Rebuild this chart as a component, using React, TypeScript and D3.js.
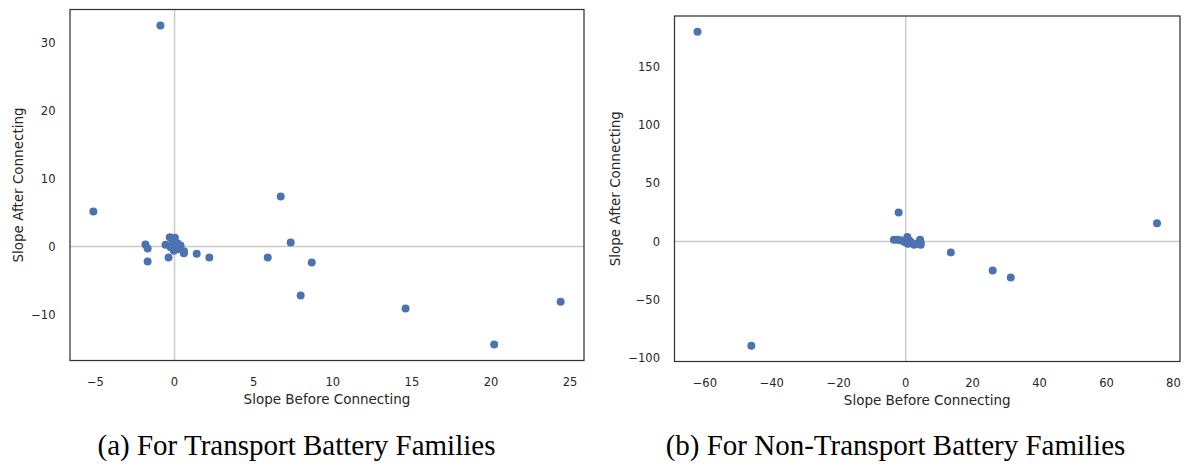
import React from "react";
import * as d3 from "d3";

// Panel (a): Transport battery families
const transportBefore = [
  -0.89, -5.13, 6.71, 7.34, 5.89, 8.67, 7.97, 14.6, 20.2, 24.4,
  -1.84, -1.7, -1.7, -0.38, 1.4, 2.2, -0.3, 0.02, -0.57, -0.25,
  0.06, 0.27, 0.59, -0.04, -0.13, 0.2, 0.38, 0.6, 0.1,
];
const transportAfter = [
  32.5, 5.15, 7.35, 0.6, -1.6, -2.35, -7.2, -9.1, -14.4, -8.1,
  0.3, -0.3, -2.2, -1.6, -1.05, -1.6, 1.37, 1.28, 0.25, -0.1,
  0.25, -0.34, -0.99, -0.6, 0.6, 0.45, 0.15, -0.7, -0.2,
];

// Panel (b): Non-transport battery families
const nonTransportBefore = [
  -62.2, -46.1, 75.1, 13.5, 26, 31.4, -2.1, -3.5, -2.5, -1.5, -0.5,
  0.5, 0.7, 1.5, 2.5, 3.5, 4.3, 4.5, 0, 1, 2, 4.5,
];
const nonTransportAfter = [
  180.6, -89.9, 15.6, -9.5, -25, -31, 25, 1.5, 1.5, 0.9, 0,
  3.7, -2, -0.6, -2.9, -2, 1.5, -2.9, -1, 1, -1.5, -1,
];

const transportXTicks = [-5, 0, 5, 10, 15, 20, 25];
const transportYTicks = [-10, 0, 10, 20, 30];
const nonTransportXTicks = [-60, -40, -20, 0, 20, 40, 60, 80];
const nonTransportYTicks = [-100, -50, 0, 50, 100, 150];

const xLabel = "Slope Before Connecting";
const yLabel = "Slope After Connecting";
const captions = [
  "(a) For Transport Battery Families",
  "(b) For Non-Transport Battery Families",
];

const SANS = "'DejaVu Sans', sans-serif";
const SERIF = "'Liberation Serif', 'Times New Roman', serif";
const TEXT = "#262626";
const DOT = "#4C72B0";

function padded(vals: number[]): [number, number] {
  const [lo, hi] = d3.extent(vals) as [number, number];
  const m = (hi - lo) * 0.05;
  return [lo - m, hi + m];
}

const fmt = (v: number) => (v < 0 ? "\u2212" + Math.abs(v) : String(v));

type PanelProps = {
  xs: number[];
  ys: number[];
  xTicks: number[];
  yTicks: number[];
  left: number;
  right: number;
  top: number;
  bottom: number;
  yLabelX: number;
  caption: string;
  captionX: number;
};

function Panel(p: PanelProps) {
  const x = d3.scaleLinear().domain(padded(p.xs)).range([p.left, p.right]);
  const y = d3.scaleLinear().domain(padded(p.ys)).range([p.bottom, p.top]);
  const cx = (p.left + p.right) / 2;
  const cy = (p.top + p.bottom) / 2;
  return (
    <g>
      <line x1={x(0)} x2={x(0)} y1={p.top} y2={p.bottom} stroke="#cccccc" strokeWidth={1.5} />
      <line x1={p.left} x2={p.right} y1={y(0)} y2={y(0)} stroke="#cccccc" strokeWidth={1.5} />
      {p.xs.map((v, i) => (
        <circle key={i} cx={x(v)} cy={y(p.ys[i])} r={4} fill={DOT} />
      ))}
      <rect
        x={p.left}
        y={p.top}
        width={p.right - p.left}
        height={p.bottom - p.top}
        fill="none"
        stroke="#333333"
        strokeWidth={1.25}
      />
      {p.xTicks.map((t) => (
        <text key={"x" + t} x={x(t)} y={p.bottom + 25} textAnchor="middle" fontFamily={SANS} fontSize={11.5} fill={TEXT}>
          {fmt(t)}
        </text>
      ))}
      {p.yTicks.map((t) => (
        <text key={"y" + t} x={p.left - 14.5} y={y(t)} dy="0.36em" textAnchor="end" fontFamily={SANS} fontSize={11.5} fill={TEXT}>
          {fmt(t)}
        </text>
      ))}
      <text x={cx} y={p.bottom + 43} textAnchor="middle" fontFamily={SANS} fontSize={13.5} fill={TEXT}>
        {xLabel}
      </text>
      <text
        transform={`translate(${p.yLabelX},${cy}) rotate(-90)`}
        textAnchor="middle"
        dy="0.36em"
        fontFamily={SANS}
        fontSize={13.5}
        fill={TEXT}
      >
        {yLabel}
      </text>
      <text x={p.captionX} y={455} textAnchor="middle" fontFamily={SERIF} fontSize={29} fill="#000">
        {p.caption}
      </text>
    </g>
  );
}

export default function App() {
  return (
    <svg
      width={1190}
      height={466}
      style={{ position: "absolute", left: 0, top: 0, background: "#fff" }}
    >
      <rect width={1190} height={466} fill="#fff" />
      <Panel
        xs={transportBefore}
        ys={transportAfter}
        xTicks={transportXTicks}
        yTicks={transportYTicks}
        left={70}
        right={584}
        top={9.5}
        bottom={360.5}
        yLabelX={18}
        caption={captions[0]}
        captionX={296.5}
      />
      <Panel
        xs={nonTransportBefore}
        ys={nonTransportAfter}
        xTicks={nonTransportXTicks}
        yTicks={nonTransportYTicks}
        left={674.5}
        right={1180}
        top={16}
        bottom={361.5}
        yLabelX={615}
        caption={captions[1]}
        captionX={895.5}
      />
    </svg>
  );
}
